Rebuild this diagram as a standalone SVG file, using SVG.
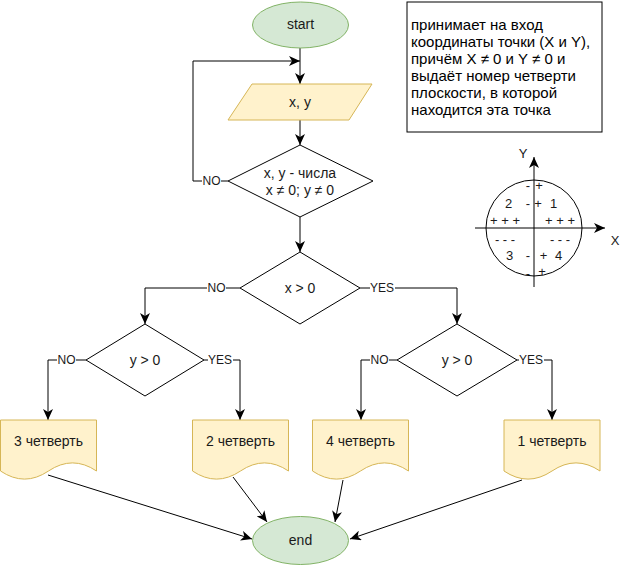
<svg xmlns="http://www.w3.org/2000/svg" width="622" height="567" viewBox="0 0 622 567">
<defs>
<marker id="arr" markerUnits="userSpaceOnUse" markerWidth="12" markerHeight="10" viewBox="0 0 12 10" refX="11" refY="5" orient="auto">
<path d="M0,0 L11,5 L0,10 L3,5 Z" fill="#000"/>
</marker>
</defs>
<style>
.t{font-family:"Liberation Sans",Arial,sans-serif;font-size:14px;fill:#1a1a1a;text-anchor:middle;dominant-baseline:central}
.l{font-family:"Liberation Sans",Arial,sans-serif;font-size:12px;fill:#1a1a1a;text-anchor:middle;dominant-baseline:central}
.q{font-family:"Liberation Sans",Arial,sans-serif;font-size:13px;fill:#1a1a1a;text-anchor:middle;dominant-baseline:central}
.b{font-family:"Liberation Sans",Arial,sans-serif;font-size:15px;fill:#000}
.term{fill:#d5e8d4;stroke:#82b366;stroke-width:1}
.io{fill:#fff2cc;stroke:#d6b656;stroke-width:1}
.dec{fill:#fff;stroke:#000;stroke-width:1}
.c{fill:none;stroke:#000;stroke-width:1}
.lb{fill:#fff}
</style>
<g id="connectors">
<path class="c" d="M300,48 L300,84" marker-end="url(#arr)"/>
<path class="c" d="M228,181 L193,181 L193,61 L300,61" marker-end="url(#arr)"/>
<path class="c" d="M300,120 L300,145" marker-end="url(#arr)"/>
<path class="c" d="M300,217 L300,252" marker-end="url(#arr)"/>
<path class="c" d="M240,288 L145,288 L145,324" marker-end="url(#arr)"/>
<path class="c" d="M360,288 L457,288 L457,324" marker-end="url(#arr)"/>
<path class="c" d="M86,360 L48,360 L48,420" marker-end="url(#arr)"/>
<path class="c" d="M204,360 L240,360 L240,420" marker-end="url(#arr)"/>
<path class="c" d="M397,360 L361,360 L361,420" marker-end="url(#arr)"/>
<path class="c" d="M517,360 L552,360 L552,420" marker-end="url(#arr)"/>
<path class="c" d="M48,475 L252,539" marker-end="url(#arr)"/>
<path class="c" d="M233,477 L267,522" marker-end="url(#arr)"/>
<path class="c" d="M343,480 L335,522" marker-end="url(#arr)"/>
<path class="c" d="M522,480 L350,539" marker-end="url(#arr)"/>
<rect class="lb" x="202" y="174" width="19" height="14"/><text class="l" x="211.5" y="181">NO</text>
<rect class="lb" x="207" y="281" width="19" height="14"/><text class="l" x="216.5" y="288">NO</text>
<rect class="lb" x="370" y="281" width="25" height="14"/><text class="l" x="382" y="288">YES</text>
<rect class="lb" x="57" y="353" width="19" height="14"/><text class="l" x="66.5" y="360">NO</text>
<rect class="lb" x="208" y="353" width="25" height="14"/><text class="l" x="220" y="360">YES</text>
<rect class="lb" x="370" y="353" width="19" height="14"/><text class="l" x="379.5" y="360">NO</text>
<rect class="lb" x="519" y="353" width="25" height="14"/><text class="l" x="531" y="360">YES</text>
</g>
<g id="start"><ellipse class="term" cx="300.5" cy="25" rx="48" ry="23"/><text class="t" x="300.5" y="24">start</text></g>
<g id="input"><path class="io" d="M252,84 L372,84 L349,120 L228,120 Z"/><text class="t" x="300" y="102">x, y</text></g>
<g id="check"><path class="dec" d="M300,145 L373,181 L300,217 L228,181 Z"/><text class="t" x="300" y="172.5">x, y - числа</text><text class="t" x="300" y="189.5">x ≠ 0; y ≠ 0</text></g>
<g id="xgt0"><path class="dec" d="M300,252 L360,288 L300,324 L240,288 Z"/><text class="t" x="300" y="288">x &gt; 0</text></g>
<g id="ygt0-left"><path class="dec" d="M145,324 L204,360 L145,396 L86,360 Z"/><text class="t" x="145" y="360">y &gt; 0</text></g>
<g id="ygt0-right"><path class="dec" d="M457,324 L517,360 L457,396 L397,360 Z"/><text class="t" x="457" y="360">y &gt; 0</text></g>
<g id="q3"><path class="io" d="M0.5,420 h96 v51 q-24,-16.2 -48,0 t-48,0 Z"/><text class="t" x="48.5" y="441">3 четверть</text></g>
<g id="q2"><path class="io" d="M192.5,420 h96 v51 q-24,-16.2 -48,0 t-48,0 Z"/><text class="t" x="240.5" y="441">2 четверть</text></g>
<g id="q4"><path class="io" d="M312.5,420 h96 v51 q-24,-16.2 -48,0 t-48,0 Z"/><text class="t" x="360.5" y="441">4 четверть</text></g>
<g id="q1"><path class="io" d="M504,420 h96 v51 q-24,-16.2 -48,0 t-48,0 Z"/><text class="t" x="552" y="441">1 четверть</text></g>
<g id="end"><ellipse class="term" cx="300.5" cy="540.5" rx="48" ry="24"/><text class="t" x="300.5" y="540">end</text></g>
<g id="note">
<rect x="407" y="2" width="195" height="130" fill="#fff" stroke="#000" stroke-width="1"/>
<text class="b" x="411" y="30">принимает на вход</text>
<text class="b" x="411" y="47">координаты точки (X и Y),</text>
<text class="b" x="411" y="64">причём X ≠ 0 и Y ≠ 0 и</text>
<text class="b" x="411" y="81">выдаёт номер четверти</text>
<text class="b" x="411" y="98">плоскости, в которой</text>
<text class="b" x="411" y="115">находится эта точка</text>
</g>
<g id="plane">
<circle cx="534" cy="228" r="48" fill="#fff" stroke="#000" stroke-width="1"/>
<path class="c" d="M475,228 L605,228" marker-end="url(#arr)"/>
<path class="c" d="M534,287 L534,157" marker-end="url(#arr)"/>
<text class="q" x="523" y="153">Y</text>
<text class="q" x="615" y="240">X</text>
<text class="q" x="528" y="185">-</text><text class="q" x="539" y="185">+</text>
<text class="q" x="508.5" y="203">2</text><text class="q" x="528" y="203">-</text><text class="q" x="538" y="203">+</text><text class="q" x="553.5" y="203">1</text>
<text class="q" x="505" y="220">+ + +</text><text class="q" x="560" y="220">+ + +</text>
<text class="q" x="505" y="239">- - -</text><text class="q" x="560" y="239">- - -</text>
<text class="q" x="509.5" y="255">3</text><text class="q" x="528" y="255">-</text><text class="q" x="543.5" y="255">+</text><text class="q" x="558.5" y="255">4</text>
<text class="q" x="528" y="273">-</text><text class="q" x="542" y="271">+</text>
</g>
</svg>
